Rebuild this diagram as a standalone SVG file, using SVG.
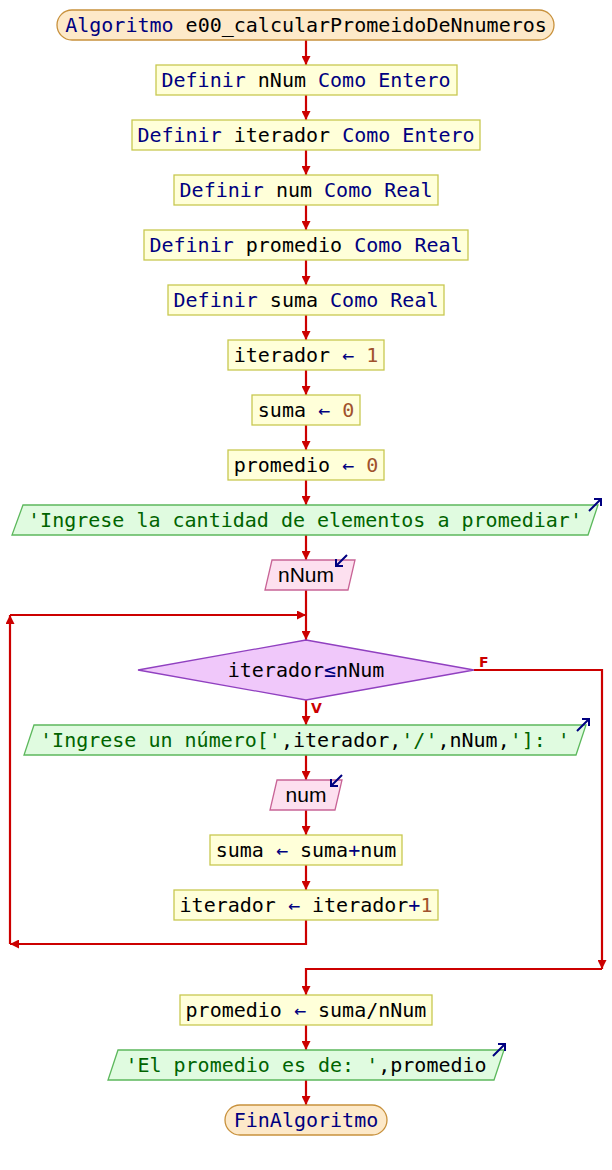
<svg xmlns="http://www.w3.org/2000/svg" width="612" height="1170" viewBox="0 0 612 1170">
<style>
text{font-family:"DejaVu Sans Mono",monospace;font-size:20px;fill:#000}
.in text,text.in{font-family:"Liberation Sans",Arial,sans-serif;font-size:21px}
.k{fill:#000080}.n{fill:#a0522d}.s{fill:#006400}
.term{fill:#fde9c9;stroke:#c8913c;stroke-width:1.3}
.proc{fill:#ffffd9;stroke:#c8c850;stroke-width:1.3}
.out{fill:#e0fbe0;stroke:#5cb85c;stroke-width:1.3}
.inp{fill:#fde0ef;stroke:#c86496;stroke-width:1.3}
.dec{fill:#f0c8fa;stroke:#9040c0;stroke-width:1.3}
.c{fill:none;stroke:#cc0000;stroke-width:2.2}
.ic{fill:none;stroke:#000080;stroke-width:2}
.lbl{font-family:"DejaVu Sans",sans-serif;font-size:14px;font-weight:bold;fill:#cc0000}
</style>
<defs>
<marker id="a" viewBox="0 0 10 10" refX="10" refY="5" markerWidth="10" markerHeight="9" markerUnits="userSpaceOnUse" orient="auto">
<path d="M0,0L10,5L0,10z" fill="#cc0000"/>
</marker>
</defs>
<g id="connectors">
<path class="c" d="M306,40V65" marker-end="url(#a)"/>
<path class="c" d="M306,95V120" marker-end="url(#a)"/>
<path class="c" d="M306,150V175" marker-end="url(#a)"/>
<path class="c" d="M306,205V230" marker-end="url(#a)"/>
<path class="c" d="M306,260V285" marker-end="url(#a)"/>
<path class="c" d="M306,315V340" marker-end="url(#a)"/>
<path class="c" d="M306,370V395" marker-end="url(#a)"/>
<path class="c" d="M306,425V450" marker-end="url(#a)"/>
<path class="c" d="M306,480V505" marker-end="url(#a)"/>
<path class="c" d="M306,535V560" marker-end="url(#a)"/>
<path class="c" d="M306,590V640" marker-end="url(#a)"/>
<path class="c" d="M306,700V725" marker-end="url(#a)"/>
<path class="c" d="M306,755V780" marker-end="url(#a)"/>
<path class="c" d="M306,810V835" marker-end="url(#a)"/>
<path class="c" d="M306,865V890" marker-end="url(#a)"/>
<path class="c" d="M306,920V944H10" marker-end="url(#a)"/>
<path class="c" d="M10,944V615" marker-end="url(#a)"/>
<path class="c" d="M10,615H306" marker-end="url(#a)"/>
<path class="c" d="M474,670H602V969" marker-end="url(#a)"/>
<path class="c" d="M602,969H306V995" marker-end="url(#a)"/>
<path class="c" d="M306,1025V1050" marker-end="url(#a)"/>
<path class="c" d="M306,1080V1105" marker-end="url(#a)"/>
<text class="lbl" x="479" y="667">F</text>
<text class="lbl" x="311" y="713">V</text>
</g>
<g id="start">
<rect class="term" x="57" y="10" width="497" height="30" rx="15"/>
<text x="306" y="32" text-anchor="middle" xml:space="preserve"><tspan class="k">Algoritmo</tspan> e00_calcularPromeidoDeNnumeros</text>
</g>
<g id="def1">
<rect class="proc" x="156" y="65" width="301" height="30"/>
<text x="306" y="87" text-anchor="middle" xml:space="preserve"><tspan class="k">Definir</tspan> nNum <tspan class="k">Como</tspan> <tspan class="k">Entero</tspan></text>
</g>
<g id="def2">
<rect class="proc" x="132" y="120" width="348" height="30"/>
<text x="306" y="142" text-anchor="middle" xml:space="preserve"><tspan class="k">Definir</tspan> iterador <tspan class="k">Como</tspan> <tspan class="k">Entero</tspan></text>
</g>
<g id="def3">
<rect class="proc" x="174" y="175" width="264" height="30"/>
<text x="306" y="197" text-anchor="middle" xml:space="preserve"><tspan class="k">Definir</tspan> num <tspan class="k">Como</tspan> <tspan class="k">Real</tspan></text>
</g>
<g id="def4">
<rect class="proc" x="144" y="230" width="324" height="30"/>
<text x="306" y="252" text-anchor="middle" xml:space="preserve"><tspan class="k">Definir</tspan> promedio <tspan class="k">Como</tspan> <tspan class="k">Real</tspan></text>
</g>
<g id="def5">
<rect class="proc" x="168" y="285" width="276" height="30"/>
<text x="306" y="307" text-anchor="middle" xml:space="preserve"><tspan class="k">Definir</tspan> suma <tspan class="k">Como</tspan> <tspan class="k">Real</tspan></text>
</g>
<g id="asg1">
<rect class="proc" x="228" y="340" width="156" height="30"/>
<text x="306" y="362" text-anchor="middle" xml:space="preserve">iterador <tspan class="k">←</tspan> <tspan class="n">1</tspan></text>
</g>
<g id="asg2">
<rect class="proc" x="252" y="395" width="108" height="30"/>
<text x="306" y="417" text-anchor="middle" xml:space="preserve">suma <tspan class="k">←</tspan> <tspan class="n">0</tspan></text>
</g>
<g id="asg3">
<rect class="proc" x="228" y="450" width="156" height="30"/>
<text x="306" y="472" text-anchor="middle" xml:space="preserve">promedio <tspan class="k">←</tspan> <tspan class="n">0</tspan></text>
</g>
<g id="out1">
<path class="out" d="M23,505H598L588,535H12Z"/>
<text x="305" y="527" text-anchor="middle" class="s">'Ingrese la cantidad de elementos a promediar'</text>
<path class="ic" d="M589,511L601,499M594,499H601V506"/>
</g>
<g id="in1">
<path class="inp" d="M272,560H355L348,590H265Z"/>
<text class="in" x="306" y="582" text-anchor="middle">nNum</text>
<path class="ic" d="M347,555L336,566M336,559V566H343"/>
</g>
<g id="cond">
<path class="dec" d="M306,640L474,670L306,700L138,670Z"/>
<text x="306" y="677" text-anchor="middle" xml:space="preserve">iterador<tspan class="k">≤</tspan>nNum</text>
</g>
<g id="out2">
<path class="out" d="M34,725H586L576,755H24Z"/>
<text x="305" y="747" text-anchor="middle" xml:space="preserve"><tspan class="s">'Ingrese un número['</tspan>,iterador,<tspan class="s">'/'</tspan>,nNum,<tspan class="s">']: '</tspan></text>
<path class="ic" d="M577,731L589,719M582,719H589V726"/>
</g>
<g id="in2">
<path class="inp" d="M277,780H342L335,810H270Z"/>
<text class="in" x="306" y="802" text-anchor="middle">num</text>
<path class="ic" d="M342,775L331,786M331,779V786H338"/>
</g>
<g id="asg4">
<rect class="proc" x="210" y="835" width="192" height="30"/>
<text x="306" y="857" text-anchor="middle" xml:space="preserve">suma <tspan class="k">←</tspan> suma<tspan class="k">+</tspan>num</text>
</g>
<g id="asg5">
<rect class="proc" x="174" y="890" width="264" height="30"/>
<text x="306" y="912" text-anchor="middle" xml:space="preserve">iterador <tspan class="k">←</tspan> iterador<tspan class="k">+</tspan><tspan class="n">1</tspan></text>
</g>
<g id="asg6">
<rect class="proc" x="180" y="995" width="252" height="30"/>
<text x="306" y="1017" text-anchor="middle" xml:space="preserve">promedio <tspan class="k">←</tspan> suma/nNum</text>
</g>
<g id="out3">
<path class="out" d="M118,1050H504L494,1080H108Z"/>
<text x="306" y="1072" text-anchor="middle" xml:space="preserve"><tspan class="s">'El promedio es de: '</tspan>,promedio</text>
<path class="ic" d="M493,1056L505,1044M498,1044H505V1051"/>
</g>
<g id="end">
<rect class="term" x="225" y="1105" width="162" height="30" rx="15"/>
<text x="306" y="1127" text-anchor="middle" class="k">FinAlgoritmo</text>
</g>
</svg>
